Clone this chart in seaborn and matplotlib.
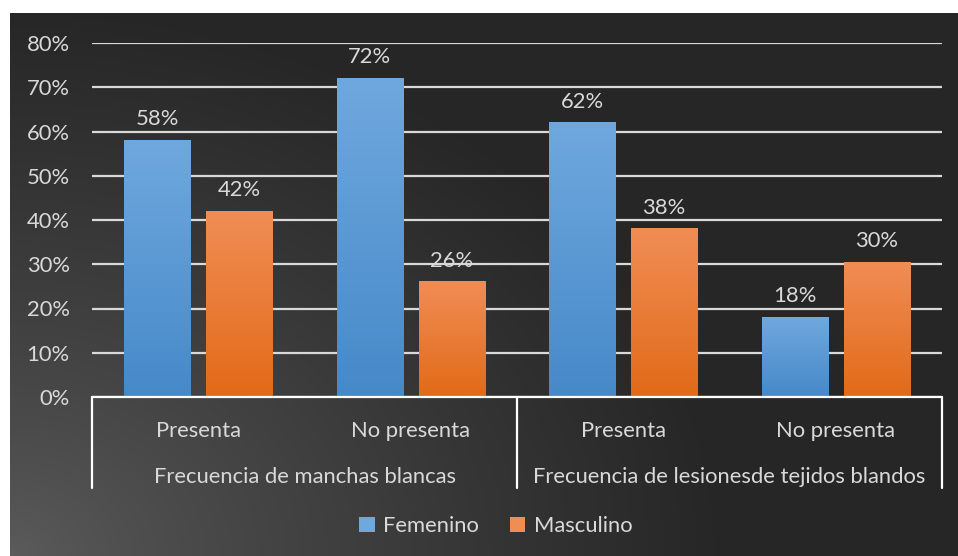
import numpy as np
import pandas as pd
import matplotlib.pyplot as plt
import matplotlib.colors as mc
from matplotlib.patches import Patch
from matplotlib.lines import Line2D
import seaborn as sns

grupos = ["Frecuencia de manchas blancas", "Frecuencia de lesionesde tejidos blandos"]
subcategorias = ["Presenta", "No presenta", "Presenta", "No presenta"]
claves = ["mb_presenta", "mb_no_presenta", "lt_presenta", "lt_no_presenta"]
sexos = ["Femenino", "Masculino"]
femenino = [58, 72, 62, 18]
masculino = [42, 26, 38, 30.4]

df = pd.DataFrame({
    "clave": claves * 2,
    "sexo": [sexos[0]] * 4 + [sexos[1]] * 4,
    "valor": femenino + masculino,
})

TXT = "#d9d9d9"
FONT = ["Lato", "DejaVu Sans"]
FS = 15.8
W, H = 958, 556

sns.set_style("dark")
plt.rcParams["font.family"] = FONT

fig = plt.figure(figsize=(W / 100, H / 100), dpi=100)
fig.patch.set_facecolor("white")

# background with a soft radial light at bottom-left
bg = fig.add_axes([10 / W, 0, (W - 10) / W, (H - 13) / H], zorder=-5)
yy, xx = np.mgrid[0:H - 13, 0:W - 10]
d = np.sqrt((xx / 1.0) ** 2 + ((H - 13 - yy) * 1.3) ** 2)
t = np.clip(d / 720, 0, 1) ** 0.8
light = np.array(mc.to_rgb("#5c5c5c"))
dark = np.array(mc.to_rgb("#262626"))
img = light[None, None, :] * (1 - t[..., None]) + dark[None, None, :] * t[..., None]
bg.imshow(img, aspect="auto", origin="upper")
bg.set_axis_off()

ax = fig.add_axes([92 / W, (H - 397) / H, 850 / W, 354 / H])
ax.patch.set_alpha(0)

palette = {"Femenino": "#5b9bd5", "Masculino": "#ed7d31"}
sns.barplot(data=df, x="clave", y="valor", hue="sexo", order=claves,
            hue_order=sexos, palette=palette, width=0.77, gap=0.19,
            ax=ax, legend=False, zorder=3, linewidth=0, edgecolor="none")

grad = {
    "Femenino": ("#6fa8de", "#4689c9"),
    "Masculino": ("#f08d55", "#e26a18"),
}
for cont, sexo in zip(ax.containers, sexos):
    top, bottom = grad[sexo]
    cmap = mc.LinearSegmentedColormap.from_list(sexo, [bottom, top])
    for p in cont.patches:
        x0, w, h = p.get_x(), p.get_width(), p.get_height()
        g = np.linspace(0, 1, 128).reshape(-1, 1)
        ax.imshow(g, cmap=cmap, extent=[x0, x0 + w, 0, h], origin="lower",
                  aspect="auto", zorder=3.5)
    ax.bar_label(cont, labels=[f"{v:.0f}%" for v in cont.datavalues],
                 padding=8, color=TXT, fontsize=FS, family=FONT)

ax.set_xlim(-0.5, 3.5)
ax.set_ylim(0, 80)
ax.set_yticks(range(0, 81, 10))
ax.set_yticklabels([f"{v}%" for v in range(0, 81, 10)], color=TXT, fontsize=FS)
ax.yaxis.grid(True, color="#d9d9d9", lw=1.6, zorder=1)
ax.xaxis.grid(False)
ax.set_xticks(range(4))
ax.set_xticklabels(subcategorias, color=TXT, fontsize=FS)
ax.tick_params(axis="x", length=0, pad=17)
ax.tick_params(axis="y", length=0, pad=16)
ax.set_xlabel("")
ax.set_ylabel("")
for s in ax.spines.values():
    s.set_visible(False)

# two-level category axis
tr = ax.get_xaxis_transform()
lw = 1.6
ax.add_line(Line2D([-0.5, 3.5], [0, 0], transform=tr, color="white", lw=lw, clip_on=False, zorder=5))
for xv in [-0.5, 1.5, 3.5]:
    ax.add_line(Line2D([xv, xv], [0, -91 / 354], transform=tr, color="white", lw=lw, clip_on=False))
for i, g in enumerate(grupos):
    ax.text(0.5 + 2 * i, -80 / 354, g, transform=tr, ha="center", va="center",
            color=TXT, fontsize=FS)

handles = [Patch(facecolor=grad[s][0], edgecolor="none") for s in sexos]
fig.legend(handles, sexos, loc="center", bbox_to_anchor=(496 / W, (H - 526) / H),
           ncol=2, frameon=False, fontsize=FS, labelcolor=TXT,
           handlelength=0.7, handleheight=0.7, handletextpad=0.4, columnspacing=1.4)

fig.savefig("out.png", dpi=100)
